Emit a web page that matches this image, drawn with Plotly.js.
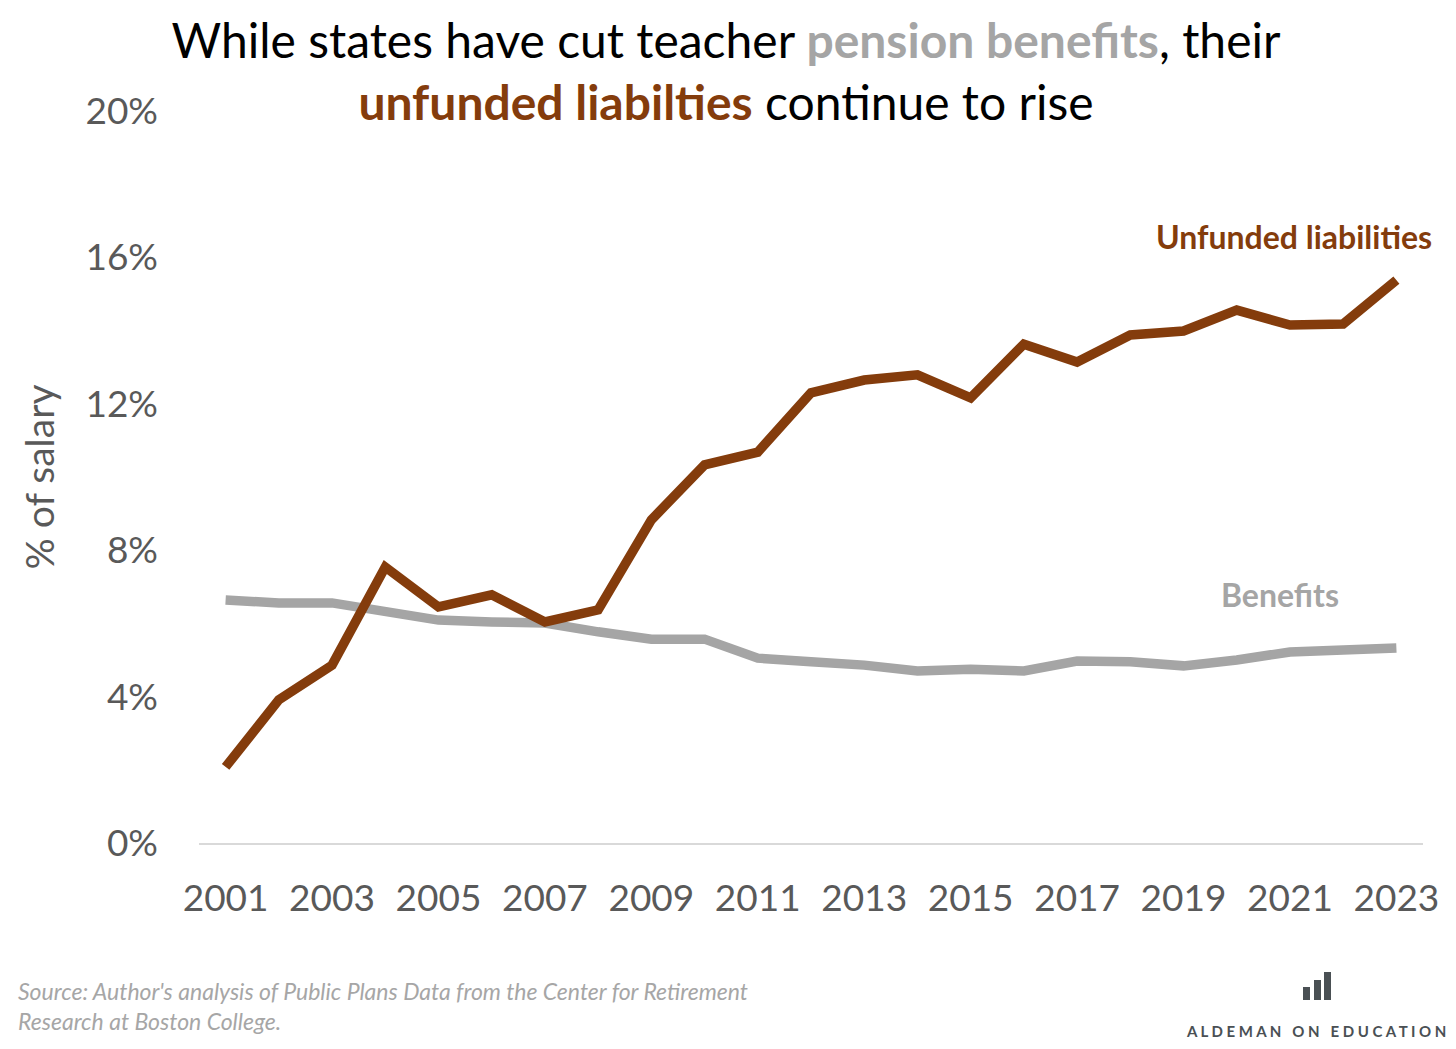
<!DOCTYPE html>
<html>
<head>
<meta charset="utf-8">
<script src="https://cdn.plot.ly/plotly-3.0.1.min.js"></script>
<style>
  html, body { margin: 0; padding: 0; background: #fff; }
  #chart { width: 1456px; height: 1049px; }
</style>
</head>
<body>
<div id="chart"></div>
<script>
// ------------ data ------------
const years = [2001, 2002, 2003, 2004, 2005, 2006, 2007, 2008, 2009, 2010, 2011, 2012,
               2013, 2014, 2015, 2016, 2017, 2018, 2019, 2020, 2021, 2022, 2023];

// % of salary
const unfunded = [2.08, 3.91, 4.86, 7.54, 6.45, 6.78, 6.04, 6.37, 8.83, 10.33, 10.68, 12.30,
                  12.65, 12.79, 12.16, 13.63, 13.14, 13.88, 13.99, 14.56, 14.15, 14.18, 15.38];
const benefits = [6.64, 6.56, 6.56, 6.34, 6.09, 6.04, 6.01, 5.77, 5.57, 5.57, 5.05, 4.95,
                  4.86, 4.70, 4.75, 4.70, 4.97, 4.95, 4.84, 5.00, 5.22, 5.27, 5.33];

const xTicks = [2001, 2003, 2005, 2007, 2009, 2011, 2013, 2015, 2017, 2019, 2021, 2023];
const yTicks = [0, 4, 8, 12, 16, 20];
const yTickLabels = ["0%", "4%", "8%", "12%", "16%", "20%"];
// ------------ end data ------------

const BROWN = "#843C0C";
const GREY = "#A5A5A5";
const FONT = "Lato, 'Open Sans', sans-serif";

// plot area in pixels (for placing footer items in paper coords)
const PL = 199, PR = 1423, PT = 111, PB = 843;
function px(x) { return (x - PL) / (PR - PL); }
function py(y) { return (PB - y) / (PB - PT); }

const traceBenefits = {
  x: years,
  y: benefits,
  type: "scatter",
  mode: "lines",
  name: "Benefits",
  hoverinfo: "none",
  line: { color: GREY, width: 9.5 },
};

const traceUnfunded = {
  x: years,
  y: unfunded,
  type: "scatter",
  mode: "lines",
  name: "Unfunded liabilities",
  hoverinfo: "none",
  line: { color: BROWN, width: 9.5 },
};

const logoBars = [
  [1303, 1310, 987],
  [1314, 1321, 980],
  [1324, 1331, 972],
];

const layout = {
  width: 1456,
  height: 1049,
  paper_bgcolor: "#fff",
  plot_bgcolor: "#fff",
  font: { family: FONT, color: "#595959" },
  showlegend: false,
  margin: { t: PT, b: 1049 - PB, l: PL, r: 1456 - PR },
  title: {
    text: "While states have cut teacher <b><span style='color:" + GREY + "'>pension benefits</span></b>, their<br>" +
          "<b><span style='color:" + BROWN + "'>unfunded liabilties</span></b> continue to rise",
    font: { family: FONT, size: 48, color: "#000" },
    xref: "container",
    x: 726 / 1456,
    xanchor: "center",
    yref: "container",
    y: 0.945,
    yanchor: "top",
  },
  xaxis: {
    range: [2000.5, 2023.5],
    tickvals: xTicks,
    ticktext: xTicks.map(String),
    tickfont: { size: 37, color: "#595959" },
    showgrid: false,
    zeroline: false,
    showline: true,
    linecolor: "#D9D9D9",
    linewidth: 1.5,
    ticks: "",
    ticklabelstandoff: 22,
  },
  yaxis: {
    range: [0, 20],
    tickvals: yTicks,
    ticktext: yTickLabels,
    tickfont: { size: 37, color: "#595959" },
    showgrid: false,
    zeroline: false,
    showline: false,
    ticks: "",
    ticklabelstandoff: 40,
    title: {
      text: "% of salary",
      font: { size: 39, color: "#595959" },
      standoff: 18,
    },
  },
  annotations: [
    {
      x: 2021.08, y: 16.56, xref: "x", yref: "y",
      text: "<b>Unfunded liabilities</b>",
      showarrow: false,
      font: { family: FONT, size: 32, color: BROWN },
    },
    {
      x: 2020.82, y: 6.78, xref: "x", yref: "y",
      text: "<b>Benefits</b>",
      showarrow: false,
      font: { family: FONT, size: 32, color: GREY },
    },
    {
      x: px(16), y: py(1006), xref: "paper", yref: "paper",
      xanchor: "left", yanchor: "middle", align: "left",
      text: "<i>Source: Author's analysis of Public Plans Data from the Center for Retirement<br>Research at Boston College.</i>",
      showarrow: false,
      font: { family: FONT, size: 23, color: "#A6A6A6" },
    },
    {
      x: px(1448), y: py(1031), xref: "paper", yref: "paper",
      xanchor: "right", yanchor: "middle",
      text: "<b>A L D E M A N   O N   E D U C A T I O N</b>",
      showarrow: false,
      font: { family: FONT, size: 15, color: "#4A5054" },
    },
  ],
  shapes: logoBars.map((b) => ({
    type: "rect", xref: "paper", yref: "paper",
    x0: px(b[0]), x1: px(b[1]), y0: py(1000), y1: py(b[2]),
    fillcolor: "#4A5054", line: { width: 0 },
  })),
};

Plotly.newPlot("chart", [traceBenefits, traceUnfunded], layout, { displayModeBar: false, staticPlot: true });
</script>
</body>
</html>
